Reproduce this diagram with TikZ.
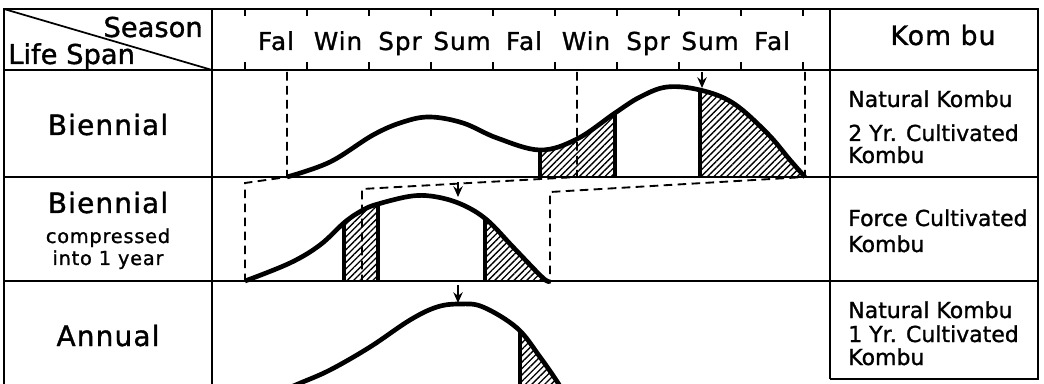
\documentclass[tikz,border=0pt]{standalone}
\usepackage{fontspec}
\setmainfont{DejaVu Sans}
\newfontfamily\labelfont[FakeBold=1.2]{DejaVu Sans}
\newfontfamily\spacedfont[FakeBold=1.2, LetterSpace=4]{DejaVu Sans}
\usetikzlibrary{arrows.meta,patterns.meta}

% growth curves (pixel coordinates)
\newcommand{\lifeone}{plot[smooth, tension=0.6] coordinates {(287,177) (330,162) (373,135) (403,122) (430,117) (463,123) (497,138) (540,150) (577,139) (615,113) (640,97) (667,87) (700,90) (733,103) (767,133) (790,160) (805,177)}}
\newcommand{\lifetwo}{plot[smooth, tension=0.6] coordinates {(245,281) (290,263) (320,245) (345,222) (363,210) (378,204) (412,196) (437,197) (463,205) (487,220) (513,247) (543,278) (550,281)}}
\newcommand{\lifethree}{plot[smooth, tension=0.6] coordinates {(270,396) (298,384) (330,370) (370,347) (410,320) (437,307) (460,304) (483,307) (517,328) (540,357) (558,383) (565,396)}}

\begin{document}
\begin{tikzpicture}[
  x=0.75pt, y=-0.75pt,
  every node/.style={inner sep=0pt},
  grid/.style={line width=1.5pt},
  tick/.style={line width=1.4pt},
  curve/.style={line width=3.5pt, line join=round},
  cut/.style={line width=3pt},
  guide/.style={line width=1.4pt, dash pattern=on 6.5pt off 4pt},
  hatch/.style={pattern={Lines[angle=45, distance=3.4pt, line width=1pt]}},
  peak arr/.style={-{Stealth[length=8pt, width=7pt]}, line width=1.4pt},
  season/.style={anchor=base, font=\spacedfont\fontsize{18.5}{18.5}\selectfont},
  head/.style={font=\labelfont\fontsize{20.5}{20.5}\selectfont},
  life/.style={anchor=base, font=\spacedfont\fontsize{21}{21}\selectfont},
  lifesub/.style={anchor=base, font=\spacedfont\fontsize{14.5}{14.5}\selectfont},
  kombu/.style={anchor=base west, font=\labelfont\fontsize{16.5}{16.5}\selectfont},
]
\useasboundingbox (0,0) rectangle (1044,384);
\begin{scope}
\clip (0,0) rectangle (1044,384);

% table frame
\draw[grid] (4,384) -- (4,9) -- (1038,9) -- (1038,379) -- (830,379);
\draw[grid] (212,9) -- (212,384);
\draw[grid] (830,9) -- (830,379);
\draw[grid] (4,70) -- (1038,70);
\draw[grid] (4,177) -- (1038,177);
\draw[grid] (4,281) -- (1038,281);
\draw[line width=1.3pt] (4,9) -- (212,70);

% season ticks
\foreach \x in {245,307,...,803}
  \draw[tick] (\x,9) -- (\x,16) (\x,62) -- (\x,70);

% header texts
\node[head, anchor=base east] (season) at (203,37) {Season};
\node[head, anchor=base west] (lifespan) at (8,64) {Life Span};
\foreach \s [count=\i] in {Fal,Win,Spr,Sum,Fal,Win,Spr,Sum,Fal}
  \node[season] (se\i) at ({214+62*\i},50) {\s};
\node[anchor=base, font=\spacedfont\fontsize{20}{20}\selectfont] (kombuhead) at (943,45) {Kom bu};

% row labels
\node[life] (bien) at (108,135) {Biennial};
\node[life] (bienc) at (108,213) {Biennial};
\node[lifesub] (comp) at (108,243) {compressed};
\node[lifesub] (oneyr) at (108,265) {into 1 year};
\node[life] (annual) at (108,346) {Annual};

% kombu column
\node[kombu] (k1a) at (848,107) {Natural Kombu};
\node[kombu] (k1b) at (848,141) {2 Yr. Cultivated};
\node[kombu] (k1c) at (848,163) {Kombu};
\node[kombu] (k2a) at (848,226) {Force Cultivated};
\node[kombu] (k2b) at (848,252) {Kombu};
\node[kombu] (k3a) at (848,318) {Natural Kombu};
\node[kombu] (k3b) at (848,342) {1 Yr. Cultivated};
\node[kombu] (k3c) at (848,365) {Kombu};

% hatched harvest periods
\begin{scope}
  \clip (540,0) rectangle (615,180) (700,0) rectangle (810,180);
  \fill[hatch] \lifeone -- cycle;
\end{scope}
\begin{scope}
  \clip (344,180) rectangle (378,282) (485,180) rectangle (552,282);
  \fill[hatch] \lifetwo -- cycle;
\end{scope}
\begin{scope}
  \clip (520,282) rectangle (570,384);
  \fill[hatch] \lifethree -- cycle;
\end{scope}
\begin{scope}
  \clip \lifeone -- cycle;
  \draw[cut] (540,60) -- (540,180) (615,60) -- (615,180) (700,60) -- (700,180);
\end{scope}
\begin{scope}
  \clip \lifetwo -- cycle;
  \draw[cut] (344,180) -- (344,282) (378,180) -- (378,282) (485,180) -- (485,282);
\end{scope}
\begin{scope}
  \clip \lifethree -- cycle;
  \draw[cut] (520,282) -- (520,390);
\end{scope}

% dashed guides between rows
\coordinate (beg1) at (287,177);
\coordinate (mid1) at (577,177);
\coordinate (end1) at (805,177);
\coordinate (beg2) at (245,281);
\coordinate (mid2) at (362,281);
\coordinate (end2) at (550,281);
\draw[guide] (287,72) -- (beg1) -- (245,183) -- (beg2);
\draw[guide] (577,72) -- (mid1) -- (362,189) -- (mid2);
\draw[guide] (805,72) -- (end1) -- (550,192) -- (end2);

% curves
\draw[curve] \lifeone;
\draw[curve] \lifetwo;
\draw[curve] \lifethree;

% peak arrows
\coordinate (pk1) at (702,88);
\coordinate (pk2) at (458,197);
\coordinate (pk3) at (458,303);
\draw[peak arr] (702,72) -- (pk1);
\draw[peak arr] (458,182) -- (pk2);
\draw[peak arr] (458,285) -- (pk3);
\end{scope}
\end{tikzpicture}
\end{document}
